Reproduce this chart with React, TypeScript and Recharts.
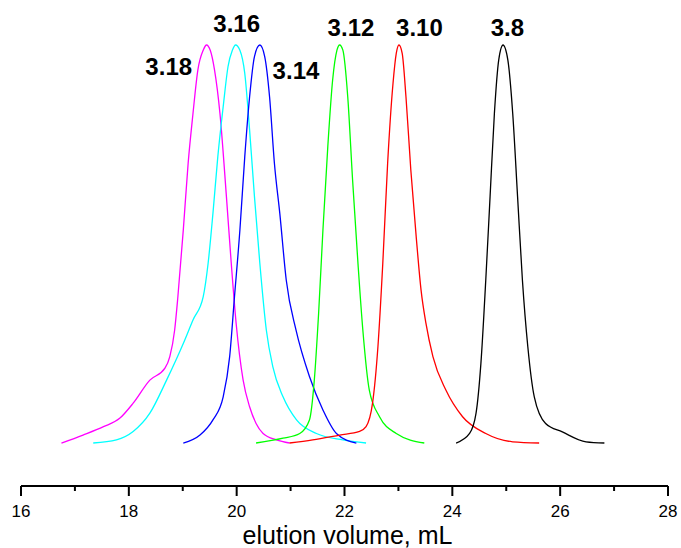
import { LineChart, Line, XAxis, YAxis, ReferenceDot } from "recharts";

// elution volume (mL) and normalised absorbance for each sample
const vol318 = [16.75, 17.15, 17.53, 17.83, 18.08, 18.39, 18.67, 18.76, 18.85, 18.91, 19.01, 19.1, 19.19, 19.28, 19.38, 19.44, 19.51, 19.59, 19.69, 19.81, 19.9, 19.99, 20.12, 20.24, 20.36, 20.49, 20.74, 20.98];
const abs318 = [0, 0.02, 0.041, 0.062, 0.1, 0.158, 0.188, 0.217, 0.284, 0.368, 0.535, 0.703, 0.828, 0.937, 0.987, 1, 0.987, 0.937, 0.828, 0.619, 0.451, 0.301, 0.158, 0.091, 0.049, 0.024, 0.008, 0];

const vol316 = [17.34, 17.77, 18.08, 18.39, 18.7, 19.01, 19.19, 19.38, 19.47, 19.56, 19.65, 19.75, 19.84, 19.92, 19.98, 20.06, 20.15, 20.24, 20.33, 20.43, 20.55, 20.67, 20.86, 21.11, 21.48, 21.97, 22.4];
const abs316 = [0, 0.008, 0.029, 0.075, 0.158, 0.25, 0.309, 0.368, 0.451, 0.577, 0.719, 0.845, 0.946, 0.987, 1, 0.987, 0.929, 0.786, 0.619, 0.451, 0.284, 0.192, 0.116, 0.058, 0.024, 0.008, 0];

const vol314 = [19.01, 19.32, 19.56, 19.75, 19.87, 19.96, 20.06, 20.15, 20.24, 20.33, 20.43, 20.52, 20.61, 20.7, 20.8, 20.92, 21.1, 21.35, 21.6, 21.85, 22.22];
const abs314 = [0, 0.02, 0.058, 0.116, 0.217, 0.368, 0.535, 0.719, 0.87, 0.971, 1, 0.971, 0.87, 0.703, 0.577, 0.409, 0.284, 0.167, 0.083, 0.024, 0];

const vol312 = [20.36, 20.86, 21.17, 21.35, 21.44, 21.52, 21.6, 21.69, 21.78, 21.86, 21.91, 21.97, 22.06, 22.15, 22.25, 22.34, 22.46, 22.65, 22.96, 23.48];
const abs312 = [0, 0.012, 0.024, 0.058, 0.158, 0.326, 0.535, 0.744, 0.912, 0.987, 1, 0.987, 0.87, 0.661, 0.451, 0.284, 0.133, 0.066, 0.024, 0];

const vol310 = [20.98, 21.41, 21.91, 22.28, 22.4, 22.52, 22.62, 22.71, 22.8, 22.9, 22.96, 23.01, 23.07, 23.14, 23.23, 23.33, 23.42, 23.51, 23.64, 23.88, 24.19, 24.62, 25.12, 25.61];
const abs310 = [0, 0.008, 0.02, 0.029, 0.041, 0.1, 0.242, 0.451, 0.703, 0.904, 0.979, 1, 0.979, 0.87, 0.686, 0.518, 0.384, 0.301, 0.217, 0.133, 0.066, 0.024, 0.003, 0];

const vol38 = [24.07, 24.32, 24.44, 24.53, 24.62, 24.7, 24.78, 24.86, 24.94, 25.03, 25.12, 25.21, 25.3, 25.4, 25.52, 25.73, 26.04, 26.48, 26.82];
const abs38 = [0, 0.024, 0.075, 0.2, 0.409, 0.619, 0.828, 0.962, 1, 0.962, 0.828, 0.619, 0.409, 0.242, 0.116, 0.049, 0.028, 0.003, 0];

const names = ["3.18", "3.16", "3.14", "3.12", "3.10", "3.8"];
const colors = ["#ff00ff", "#00ffff", "#0000ff", "#00ff00", "#ff0000", "#000000"];
const vols = [vol318, vol316, vol314, vol312, vol310, vol38];
const abss = [abs318, abs316, abs314, abs312, abs310, abs38];

// where each peak label sits (volume, absorbance)
const labelX = [18.74, 20.0, 21.1, 22.12, 23.39, 25.02];
const labelY = [0.945, 1.054, 0.935, 1.045, 1.045, 1.045];

const xTicks = [16, 17, 18, 19, 20, 21, 22, 23, 24, 25, 26, 27, 28];

const font = "'Liberation Sans', Arial, sans-serif";

const series = names.map((name, i) => ({
  name,
  color: colors[i],
  data: vols[i].map((v, j) => ({ x: v, y: abss[i][j] })),
}));

const Tick = (props: any) => {
  const { x, y, payload } = props;
  const major = payload.value % 2 === 0;
  return (
    <g>
      <line x1={x} x2={x} y1={y} y2={y + (major ? 10 : 5)} stroke="#000" strokeWidth={2} />
      {major && (
        <text x={x} y={y + 31} textAnchor="middle" fontSize={17} fontFamily={font} fill="#000">
          {payload.value}
        </text>
      )}
    </g>
  );
};

export default function App() {
  return (
    <div style={{ position: "absolute", left: 0, top: 0, background: "#fff" }}>
      <LineChart
        width={681}
        height={548}
        margin={{ top: 5, right: 13, left: 21, bottom: 0 }}
      >
        <XAxis
          type="number"
          dataKey="x"
          domain={[16, 28]}
          ticks={xTicks}
          allowDataOverflow
          interval={0}
          height={62}
          tickSize={0}
          tickMargin={0}
          tickLine={false}
          axisLine={{ stroke: "#000", strokeWidth: 2 }}
          tick={<Tick />}
          label={{
            content: (p: any) => {
              const vb = p.viewBox;
              return (
                <text
                  x={vb.x + vb.width / 2 + 3}
                  y={vb.y + 58}
                  textAnchor="middle"
                  fontSize={25}
                  fontFamily={font}
                  fill="#000"
                >
                  elution volume, mL
                </text>
              );
            },
          }}
        />
        <YAxis type="number" dataKey="y" hide domain={[-0.108, 1.1005]} allowDataOverflow />
        {series.map((s) => (
          <Line
            key={s.name}
            data={s.data}
            dataKey="y"
            type="monotone"
            stroke={s.color}
            strokeWidth={1.3}
            dot={false}
            activeDot={false}
            isAnimationActive={false}
          />
        ))}
        {names.map((n, i) => (
          <ReferenceDot
            key={n}
            x={labelX[i]}
            y={labelY[i]}
            r={0}
            shape={(p: any) => (
              <text
                x={p.cx}
                y={p.cy + 8.5}
                textAnchor="middle"
                fontSize={24}
                fontWeight="bold"
                fontFamily={font}
                fill="#000"
              >
                {n}
              </text>
            )}
          />
        ))}
      </LineChart>
    </div>
  );
}
